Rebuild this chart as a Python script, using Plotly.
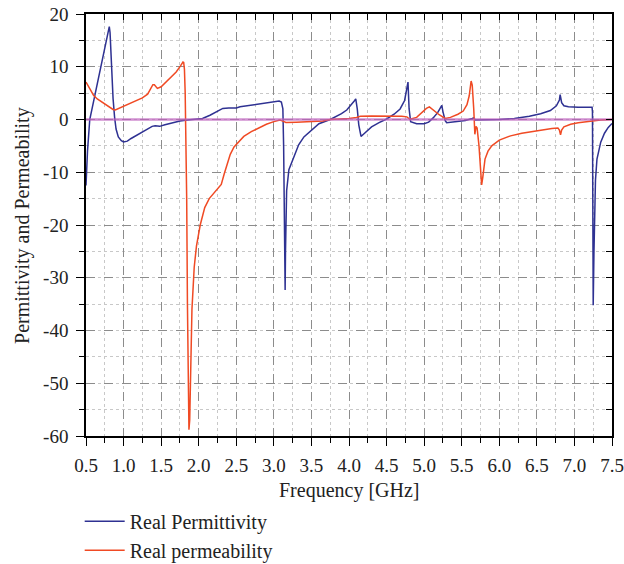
import plotly.graph_objects as go

# Real permittivity (blue)
perm_f = [0.50, 0.52, 0.55, 0.60, 0.65, 0.70, 0.75, 0.80, 0.81, 0.82, 0.84, 0.86, 0.88, 0.90, 0.93, 0.97,
          1.00, 1.05, 1.10, 1.20, 1.30, 1.38, 1.42, 1.48, 1.55, 1.65, 1.75, 1.85, 1.95, 2.05, 2.15, 2.25,
          2.32, 2.40, 2.50, 2.55, 2.70, 2.85, 3.00, 3.07, 3.10, 3.12, 3.13, 3.14, 3.15, 3.155, 3.17, 3.20,
          3.26, 3.33, 3.40, 3.50, 3.60, 3.75, 3.90, 3.97, 4.03, 4.07, 4.09, 4.11, 4.13, 4.16, 4.20, 4.30,
          4.40, 4.50, 4.60, 4.68, 4.74, 4.77, 4.785, 4.80, 4.82, 4.90, 5.00, 5.06, 5.12, 5.18, 5.22, 5.235,
          5.25, 5.28, 5.30, 5.40, 5.55, 5.64, 5.66, 5.68, 5.80, 6.00, 6.20, 6.40, 6.55, 6.68, 6.76, 6.80,
          6.81, 6.83, 6.86, 6.92, 7.05, 7.20, 7.235, 7.24, 7.245, 7.25, 7.26, 7.28, 7.30, 7.35, 7.40, 7.45, 7.50]
perm_v = [-12.5, -6.0, 0.0, 3.5, 7.0, 10.3, 13.8, 17.3, 17.6, 16.5, 10.0, 4.0, 0.5, -1.8, -3.3, -4.0,
          -4.25, -4.1, -3.6, -2.8, -2.0, -1.3, -1.2, -1.3, -1.0, -0.6, -0.3, -0.1, 0.0, 0.2, 0.8, 1.5,
          2.1, 2.2, 2.2, 2.4, 2.7, 3.0, 3.3, 3.5, 3.3, 2.0, -5.0, -20.0, -32.3, -25.0, -13.5, -9.5,
          -7.2, -4.8, -3.3, -2.0, -0.8, 0.0, 1.1, 1.8, 2.7, 3.5, 3.9, 2.0, -1.0, -3.2, -2.7, -1.4,
          -0.6, 0.1, 1.0, 2.0, 3.6, 5.8, 7.1, 2.0, -0.4, -0.8, -0.8, -0.5, 0.3, 1.3, 2.3, 2.7,
          1.5, -0.2, -0.6, -0.4, -0.2, 0.2, 0.3, -0.1, -0.1, 0.0, 0.2, 0.6, 1.1, 1.7, 2.6, 3.7,
          4.7, 3.2, 2.6, 2.4, 2.3, 2.3, 2.3, 1.5, -10.0, -35.2, -25.0, -11.5, -7.5, -4.3, -2.6, -1.5, -0.75]

# Real permeability (red)
mu_f = [0.50, 0.55, 0.60, 0.65, 0.70, 0.75, 0.80, 0.86, 0.89, 0.95, 1.05, 1.15, 1.25, 1.32, 1.37, 1.39,
        1.41, 1.45, 1.50, 1.60, 1.70, 1.76, 1.79, 1.80, 1.81, 1.82, 1.83, 1.84, 1.85, 1.86, 1.87, 1.88,
        1.895, 1.91, 1.94, 1.97, 2.02, 2.08, 2.14, 2.20, 2.27, 2.30, 2.34, 2.38, 2.42, 2.47, 2.53, 2.60,
        2.70, 2.80, 2.90, 3.00, 3.08, 3.12, 3.16, 3.30, 3.50, 3.65, 3.75, 3.90, 4.00, 4.10, 4.15, 4.30,
        4.50, 4.70, 4.77, 4.81, 4.90, 4.97, 5.03, 5.07, 5.12, 5.20, 5.28, 5.35, 5.45, 5.52, 5.57, 5.60,
        5.625, 5.64, 5.66, 5.675, 5.69, 5.705, 5.73, 5.75, 5.765, 5.78, 5.81, 5.85, 5.90, 6.00, 6.15, 6.30,
        6.50, 6.70, 6.78, 6.80, 6.815, 6.83, 6.86, 6.95, 7.05, 7.20, 7.35, 7.50]
mu_v = [7.1, 5.8, 4.6, 3.9, 3.4, 2.9, 2.4, 1.9, 1.8, 2.2, 2.8, 3.4, 4.1, 4.8, 6.0, 6.6,
        6.6, 5.9, 6.2, 7.6, 9.0, 10.2, 10.9, 10.8, 9.5, 5.0, -3.0, -15.0, -35.0, -52.0, -58.8, -57.0,
        -45.0, -36.0, -28.0, -24.0, -20.0, -16.7, -15.0, -14.0, -13.0, -12.3, -10.3, -8.2, -6.6, -5.2, -4.2, -3.2,
        -2.3, -1.6, -0.9, -0.4, -0.1, -0.3, -0.55, -0.5, -0.45, -0.3, 0.0, 0.1, 0.2, 0.4, 0.6, 0.65,
        0.65, 0.6, 0.5, 0.05, 0.4, 1.3, 2.1, 2.4, 1.8, 0.9, 0.2, 0.4, 1.0, 1.6, 2.8, 4.5,
        7.3, 6.5, 2.0, -2.8, -1.3, -1.6, -5.0, -10.0, -12.4, -11.0, -7.5, -6.0, -5.0, -3.9, -3.1, -2.6,
        -2.1, -1.7, -1.6, -2.0, -2.9, -2.0, -1.4, -0.9, -0.6, -0.3, -0.1, 0.0]

zero_f = [0.5, 7.5]
zero_v = [0.0, 0.0]

x_ticks = [0.5, 1.0, 1.5, 2.0, 2.5, 3.0, 3.5, 4.0, 4.5, 5.0, 5.5, 6.0, 6.5, 7.0, 7.5]
x_labels = ["0.5", "1.0", "1.5", "2.0", "2.5", "3.0", "3.5", "4.0", "4.5", "5.0", "5.5", "6.0", "6.5", "7.0", "7.5"]
y_ticks = [-60, -50, -40, -30, -20, -10, 0, 10, 20]
y_labels = ["-60", "-50", "-40", "-30", "-20", "-10", "0", "10", "20"]

BLUE = "#2e3192"
RED = "#f04a24"
FONT = "Liberation Serif"
FS = 19
FT = 20

fig = go.Figure()
fig.add_trace(go.Scatter(x=perm_f, y=perm_v, mode="lines", name="Real Permittivity",
                         line=dict(color=BLUE, width=1.5)))
fig.add_trace(go.Scatter(x=mu_f, y=mu_v, mode="lines", name="Real permeability",
                         line=dict(color=RED, width=1.5)))
fig.add_trace(go.Scatter(x=zero_f, y=zero_v, mode="lines", showlegend=False, hoverinfo="skip",
                         line=dict(color="rgba(190,95,190,0.7)", width=2.5), xaxis="x2", yaxis="y2"))

grid_major = "#8c8c8c"
grid_minor = "#c8c8c8"

fig.update_layout(
    width=624, height=564,
    margin=dict(l=86, r=12, t=14, b=128, autoexpand=False),
    paper_bgcolor="white", plot_bgcolor="white",
    font=dict(family=FONT, size=FS, color="#222"),
    xaxis=dict(range=[0.5, 7.5], tickvals=x_ticks, ticktext=x_labels, automargin=False,
               ticklabeloverflow="allow",
               ticks="outside", ticklen=8, tickwidth=1.2, tickcolor="black", ticklabelstandoff=3,
               showline=True, linecolor="black", linewidth=1.5,
               showgrid=True, gridcolor=grid_major, griddash="dash", gridwidth=1,
               minor=dict(dtick=0.25, tick0=0.5, ticks="outside", ticklen=5, tickcolor="black",
                          showgrid=True, gridcolor=grid_minor, griddash="dot", gridwidth=1),
               zeroline=False, tickfont=dict(size=FS)),
    yaxis=dict(range=[-60, 20], tickvals=y_ticks, ticktext=y_labels, automargin=False,
               ticklabeloverflow="allow",
               ticks="outside", ticklen=8, tickwidth=1.2, tickcolor="black", ticklabelstandoff=4,
               showline=True, linecolor="black", linewidth=1.5,
               showgrid=True, gridcolor=grid_major, griddash="dash", gridwidth=1,
               minor=dict(dtick=5, tick0=0, ticks="outside", ticklen=5, tickcolor="black",
                          showgrid=True, gridcolor=grid_minor, griddash="dot", gridwidth=1),
               zeroline=False, tickfont=dict(size=FS)),
    xaxis2=dict(range=[0.5, 7.5], overlaying="x", side="top", anchor="y2", automargin=False,
                tickmode="linear", tick0=0.5, dtick=0.25, ticks="inside", ticklen=6,
                tickcolor="black", showticklabels=False, showgrid=False, zeroline=False,
                showline=True, linecolor="black", linewidth=1.5),
    yaxis2=dict(range=[-60, 20], overlaying="y", side="right", anchor="x2", automargin=False,
                tickmode="linear", tick0=0, dtick=5, ticks="inside", ticklen=6,
                tickcolor="black", showticklabels=False, showgrid=False, zeroline=False,
                showline=True, linecolor="black", linewidth=1.5),
    legend=dict(x=-0.012, y=-0.156, xanchor="left", yanchor="top", orientation="v",
                font=dict(size=FT), bgcolor="rgba(0,0,0,0)", tracegroupgap=0, itemwidth=40),
    showlegend=True,
    annotations=[
        dict(text="Frequency [GHz]", xref="paper", yref="paper", x=0.5, y=-0.128,
             xanchor="center", yanchor="middle", showarrow=False, font=dict(size=FT)),
        dict(text="Permittivity and Permeability", xref="paper", yref="paper", x=-0.1217, y=0.5,
             xanchor="center", yanchor="middle", textangle=-90, showarrow=False, font=dict(size=FT)),
    ],
)

# remove the browser's default 8px page margin so the 624x564 figure fills the window
fig.write_html("out.html", config={"displayModeBar": False},
               post_script="document.body.style.margin='0px';")
